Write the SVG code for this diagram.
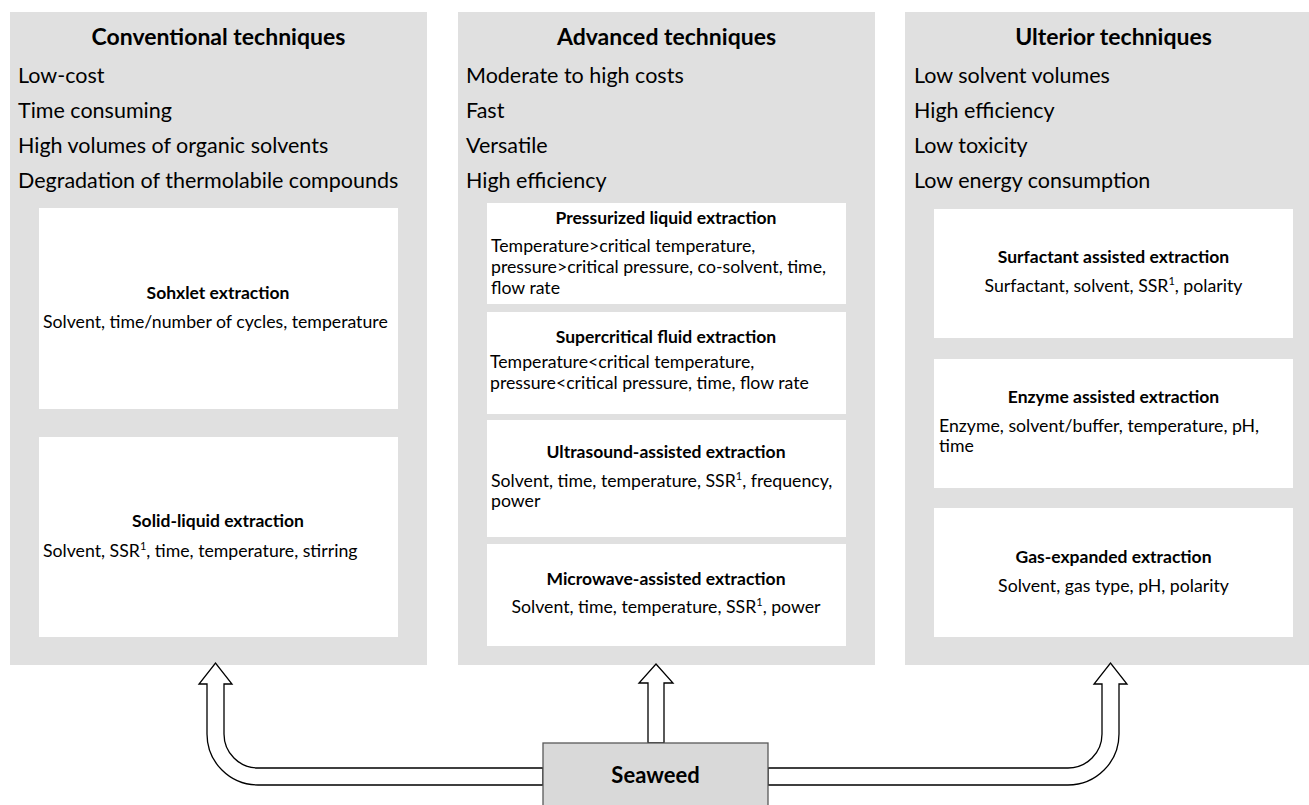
<svg xmlns="http://www.w3.org/2000/svg" width="1309" height="805" viewBox="0 0 1309 805">
<style>
text{font-family:Lato,"Open Sans","Liberation Sans",sans-serif;fill:#000}
.panel{fill:#e0e0e0}
.box{fill:#fff}
.h{font-weight:bold;font-size:23px;text-anchor:middle}
.li{font-size:21.5px}
.bt{font-weight:bold;font-size:17.5px;text-anchor:middle}
.bd{font-size:17.7px}
.c{text-anchor:middle}
.sup{font-size:11px}
.arrow{fill:#fff;stroke:#000;stroke-width:1.3;stroke-linejoin:miter}
.seaweed{fill:#d9d9d9;stroke:#595959;stroke-width:1.3}
.sw{font-weight:bold;font-size:22px;text-anchor:middle}
</style>
<rect width="1309" height="805" fill="#fff"/>

<g id="conventional">
<rect class="panel" x="10" y="12" width="417" height="653"/>
<text class="h" x="218.5" y="45">Conventional techniques</text>
<text class="li" x="18" y="83">Low-cost</text>
<text class="li" x="18" y="118">Time consuming</text>
<text class="li" x="18" y="153">High volumes of organic solvents</text>
<text class="li" x="18" y="188">Degradation of thermolabile compounds</text>
</g>
<g id="sohxlet">
<rect class="box" x="39" y="208" width="359" height="201"/>
<text class="bt" x="218" y="299">Sohxlet extraction</text>
<text class="bd" x="43" y="328">Solvent, time/number of cycles, temperature</text>
</g>
<g id="solid-liquid">
<rect class="box" x="39" y="437" width="359" height="200"/>
<text class="bt" x="218" y="527">Solid-liquid extraction</text>
<text class="bd" x="43" y="557">Solvent, SSR<tspan class="sup" dy="-7">1</tspan><tspan dy="7">, time, temperature, stirring</tspan></text>
</g>

<g id="advanced">
<rect class="panel" x="458" y="12" width="417" height="653"/>
<text class="h" x="666.5" y="45">Advanced techniques</text>
<text class="li" x="466" y="83">Moderate to high costs</text>
<text class="li" x="466" y="118">Fast</text>
<text class="li" x="466" y="153">Versatile</text>
<text class="li" x="466" y="188">High efficiency</text>
</g>
<g id="pressurized">
<rect class="box" x="487" y="203" width="359" height="101"/>
<text class="bt" x="666" y="224">Pressurized liquid extraction</text>
<text class="bd" x="491" y="252">Temperature&gt;critical temperature,</text>
<text class="bd" x="491" y="273">pressure&gt;critical pressure, co-solvent, time,</text>
<text class="bd" x="491" y="294">flow rate</text>
</g>
<g id="supercritical">
<rect class="box" x="487" y="312" width="359" height="102"/>
<text class="bt" x="666" y="343">Supercritical fluid extraction</text>
<text class="bd" x="490" y="368">Temperature&lt;critical temperature,</text>
<text class="bd" x="490" y="389">pressure&lt;critical pressure, time, flow rate</text>
</g>
<g id="ultrasound">
<rect class="box" x="487" y="420" width="359" height="117"/>
<text class="bt" x="666" y="458">Ultrasound-assisted extraction</text>
<text class="bd" x="491" y="487">Solvent, time, temperature, SSR<tspan class="sup" dy="-7">1</tspan><tspan dy="7">, frequency,</tspan></text>
<text class="bd" x="491" y="507">power</text>
</g>
<g id="microwave">
<rect class="box" x="487" y="544" width="359" height="102"/>
<text class="bt" x="666" y="585">Microwave-assisted extraction</text>
<text class="bd c" x="666" y="613">Solvent, time, temperature, SSR<tspan class="sup" dy="-7">1</tspan><tspan dy="7">, power</tspan></text>
</g>

<g id="ulterior">
<rect class="panel" x="905" y="12" width="404" height="653"/>
<text class="h" x="1113.5" y="45">Ulterior techniques</text>
<text class="li" x="914" y="83">Low solvent volumes</text>
<text class="li" x="914" y="118">High efficiency</text>
<text class="li" x="914" y="153">Low toxicity</text>
<text class="li" x="914" y="188">Low energy consumption</text>
</g>
<g id="surfactant">
<rect class="box" x="934" y="209" width="359" height="129"/>
<text class="bt" x="1113.5" y="263">Surfactant assisted extraction</text>
<text class="bd c" x="1113.5" y="292">Surfactant, solvent, SSR<tspan class="sup" dy="-7">1</tspan><tspan dy="7">, polarity</tspan></text>
</g>
<g id="enzyme">
<rect class="box" x="934" y="359" width="359" height="129"/>
<text class="bt" x="1113.5" y="403">Enzyme assisted extraction</text>
<text class="bd" x="939" y="432">Enzyme, solvent/buffer, temperature, pH,</text>
<text class="bd" x="939" y="452">time</text>
</g>
<g id="gas-expanded">
<rect class="box" x="934" y="508" width="359" height="129"/>
<text class="bt" x="1113.5" y="563">Gas-expanded extraction</text>
<text class="bd c" x="1113.5" y="592">Solvent, gas type, pH, polarity</text>
</g>

<g id="connectors">
<path class="arrow" d="M543 768 H258 A34 34 0 0 1 224 734 V684 H232 L215.5 663 L199 684 H207 V734 A51 51 0 0 0 258 785 H543 Z"/>
<path class="arrow" d="M648 743 V683 H639 L656 664 L673 683 H664 V743 Z"/>
<path class="arrow" d="M768 768 H1068 A34 34 0 0 0 1102 734 V684 H1094 L1110.5 663 L1127 684 H1119 V734 A51 51 0 0 1 1068 785 H768 Z"/>
</g>

<g id="seaweed">
<rect class="seaweed" x="543" y="743" width="225" height="70"/>
<text class="sw" x="655.5" y="783">Seaweed</text>
</g>
</svg>
